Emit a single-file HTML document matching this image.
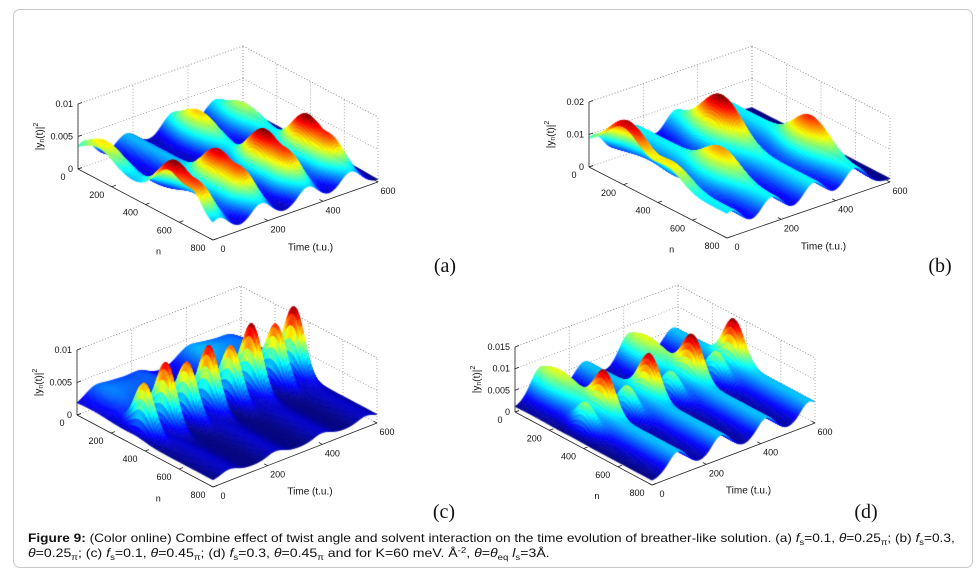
<!DOCTYPE html>
<html><head><meta charset="utf-8">
<style>
html,body{margin:0;padding:0;background:#fff;}
#wrap{position:relative;width:980px;height:578px;overflow:hidden;font-family:"Liberation Sans",Arial,sans-serif;}
#frame{position:absolute;left:13px;top:9px;width:960px;height:559px;border:1.5px solid #c9c9c9;border-radius:7px;box-sizing:border-box;}
svg,canvas{position:absolute;left:0;top:0;}
.cap{position:absolute;left:28px;font-size:11.7px;color:#111;white-space:nowrap;transform-origin:0 0;line-height:14px;}
.cap sub{font-size:8px;vertical-align:-3px;line-height:0}
.cap sup{font-size:8px;vertical-align:4px;line-height:0}
</style></head>
<body>
<div id="wrap">
<div id="frame"></div>
<svg id="gridLayer" width="980" height="578"></svg>
<canvas id="surf" width="980" height="578"></canvas>
<svg id="labelLayer" width="980" height="578"></svg>
<div class="cap" id="cap1" style="top:532px"><b>Figure 9:</b> (Color online) Combine effect of twist angle and solvent interaction on the time evolution of breather-like solution. (a) <i>f</i><sub>s</sub>=0.1, <i>θ</i>=0.25<sub>π</sub>; (b) <i>f</i><sub>s</sub>=0.3,</div>
<div class="cap" id="cap2" style="top:547px"><i>θ</i>=0.25<sub>π</sub>; (c) <i>f</i><sub>s</sub>=0.1, <i>θ</i>=0.45<sub>π</sub>; (d) <i>f</i><sub>s</sub>=0.3, <i>θ</i>=0.45<sub>π</sub> and for K=60 meV. Å<sup>-2</sup>, <i>θ</i>=<i>θ</i><sub>eq</sub> <i>l</i><sub>s</sub>=3Å.</div>
</div>
<script>
// ---------- data: panel (a) ----------
const aRidgeT=[20,175,345,500];
const aRidgeZ=[0.0025,0.0025,0.0025,0.0025];
const aHumpN=[540,540,540,540,690,690,690,690,120,150,160];
const aHumpT=[20,175,345,500,20,175,345,500,20,345,500];
const aHumpZ=[0.0055,0.005,0.0055,0.0055,0.003,0.003,0.003,0.003,0.0028,0.003,0.002];
const aHumpSN=[80,80,80,80,50,50,50,50,90,90,90];
const aHumpST=[38,38,38,38,38,38,38,38,40,40,40];
// ---------- data: panel (b) ----------
const bRidgeT=[15,165,320,470];
const bRidgeZ=[0.007,0.007,0.007,0.007];
const bHumpN=[200,460,500,260,540];
const bHumpT=[15,15,165,320,470];
const bHumpZ=[0.011,0.005,0.007,0.012,0.009];
const bHumpSN=[100,80,90,100,90];
const bHumpST=[40,40,40,40,40];
// ---------- data: panel (c) ----------
const cRidgeT=[60,230,400,560];
const cRidgeZ=[0.0008,0.0008,0.0008,0.0008];
const cHumpN=[80,80,350,350,350,350,350,350,350,350];
const cHumpT=[130,460,30,110,187,267,348,424,512,578];
const cHumpZ=[0.0025,0.003,0.0075,0.0095,0.0082,0.0096,0.0083,0.0098,0.0087,0.0102];
const cHumpSN=[150,150,55,55,55,55,55,55,55,55];
const cHumpST=[90,90,12,12,12,12,12,12,12,12];
// ---------- data: panel (d) ----------
const dRidgeT=[95,255,420,580];
const dRidgeZ=[0.0045,0.0045,0.0045,0.0045];
const dHumpN=[100,100,350,350,350,350,350,350,350,350];
const dHumpT=[95,420,40,110,195,276,357,434,522,585];
const dHumpZ=[0.004,0.004,0.006,0.009,0.0065,0.0095,0.006,0.0095,0.0065,0.0095];
const dHumpSN=[110,110,55,55,55,55,55,55,55,55];
const dHumpST=[40,40,14,14,14,14,14,14,14,14];
// ---------- axis tick values ----------
const nTicks=[0,200,400,600,800];
const tTicks=[0,200,400,600];
const zTicksA=[0,0.005,0.01];
const zTicksB=[0,0.01,0.02];
const zTicksC=[0,0.005,0.01];
const zTicksD=[0,0.005,0.01,0.015];
const zTickLabelsA=["0","0.005","0.01"];
const zTickLabelsB=["0","0.01","0.02"];
const zTickLabelsC=["0","0.005","0.01"];
const zTickLabelsD=["0","0.005","0.01","0.015"];

const panels=[
 {id:'a',O:[78,169],Vn:[135,71],Vt:[165,-58],H:65,zTop:0.01,base:0.0003,ridgeSig:38,
  RT:aRidgeT,RZ:aRidgeZ,HN:aHumpN,HT:aHumpT,HZ:aHumpZ,HSN:aHumpSN,HST:aHumpST,zt:zTicksA,zl:zTickLabelsA,lab:[445,266]},
 {id:'b',O:[589,167],Vn:[138,71],Vt:[163,-56],H:65,zTop:0.02,base:0.001,ridgeSig:40,
  RT:bRidgeT,RZ:bRidgeZ,HN:bHumpN,HT:bHumpT,HZ:bHumpZ,HSN:bHumpSN,HST:bHumpST,zt:zTicksB,zl:zTickLabelsB,lab:[940,266]},
 {id:'c',O:[77,415],Vn:[136,72],Vt:[164,-64],H:65,zTop:0.01,base:0.001,ridgeSig:30,
  RT:cRidgeT,RZ:cRidgeZ,HN:cHumpN,HT:cHumpT,HZ:cHumpZ,HSN:cHumpSN,HST:cHumpST,zt:zTicksC,zl:zTickLabelsC,lab:[444,512]},
 {id:'d',O:[515,412],Vn:[137,73],Vt:[163,-62],H:65,zTop:0.015,base:0.001,ridgeSig:35,
  RT:dRidgeT,RZ:dRidgeZ,HN:dHumpN,HT:dHumpT,HZ:dHumpZ,HSN:dHumpSN,HST:dHumpST,zt:zTicksD,zl:zTickLabelsD,lab:[866,512]}
];

function proj(p,n,t,z){
  return [p.O[0]+n/800*p.Vn[0]+t/600*p.Vt[0], p.O[1]+n/800*p.Vn[1]+t/600*p.Vt[1]-z/p.zTop*p.H];
}
function surfZ(p,n,t){
  let z=p.base;
  for(let i=0;i<p.RT.length;i++){const d=(t-p.RT[i])/p.ridgeSig; z+=p.RZ[i]*Math.exp(-d*d/2);}
  for(let i=0;i<p.HN.length;i++){const dn=(n-p.HN[i])/p.HSN[i], dt=(t-p.HT[i])/p.HST[i]; z+=p.HZ[i]*Math.exp(-(dn*dn+dt*dt)/2);}
  return z;
}
function jet(v){
  v=Math.max(0,Math.min(1,v));
  const r=Math.max(0,Math.min(1,1.5-Math.abs(4*v-3)));
  const g=Math.max(0,Math.min(1,1.5-Math.abs(4*v-2)));
  const b=Math.max(0,Math.min(1,1.5-Math.abs(4*v-1)));
  return 'rgb('+Math.round(r*255)+','+Math.round(g*255)+','+Math.round(b*255)+')';
}
const NS='http://www.w3.org/2000/svg';
const grid=document.getElementById('gridLayer');
const lab=document.getElementById('labelLayer');
function line(par,a,b,style,name){
  const l=document.createElementNS(NS,'line');
  l.setAttribute('x1',a[0].toFixed(1));l.setAttribute('y1',a[1].toFixed(1));
  l.setAttribute('x2',b[0].toFixed(1));l.setAttribute('y2',b[1].toFixed(1));
  l.setAttribute('stroke',style.c);l.setAttribute('stroke-width',style.w);
  if(style.d)l.setAttribute('stroke-dasharray',style.d);
  
  
  par.appendChild(l);
}
function text(par,x,y,s,opts,name){
  const e=document.createElementNS(NS,'text');
  e.setAttribute('x',x);e.setAttribute('y',y);
  e.setAttribute('font-family',opts.f||'"Liberation Sans",Arial,sans-serif');
  e.setAttribute('font-size',opts.s||9);
  e.setAttribute('fill','#111');
  e.setAttribute('text-anchor',opts.a||'middle');
  e.setAttribute('dominant-baseline','central');
  if(opts.r)e.setAttribute('transform','rotate('+opts.r+' '+x+' '+y+')');
  e.textContent=s;
  
  
  par.appendChild(e);
  return e;
}
const ctx=document.getElementById('surf').getContext('2d');
const dotted={c:'#999',w:0.8,d:'1 2'};
const axisS={c:'#222',w:0.8};
panels.forEach(p=>{
  for(const zv of p.zt.concat([p.zTop])){
    line(grid,proj(p,0,0,zv),proj(p,0,600,zv),dotted,'grid-z-line-back-'+p.id);
    line(grid,proj(p,0,600,zv),proj(p,800,600,zv),dotted,'grid-z-line-side-'+p.id);
  }
  for(const tv of tTicks) line(grid,proj(p,0,tv,0),proj(p,0,tv,p.zTop),dotted,'grid-t-line-'+p.id);
  for(const nv of nTicks) line(grid,proj(p,nv,600,0),proj(p,nv,600,p.zTop),dotted,'grid-n-line-'+p.id);
  const NS_=80, TS=150, dn=800/NS_, dt=600/TS;
  const Z=[];let zmin=1e9,zmax=-1e9;
  for(let i=0;i<=NS_;i++){Z[i]=[];for(let j=0;j<=TS;j++){const z=surfZ(p,i*dn,j*dt);Z[i][j]=z;zmin=Math.min(zmin,z);zmax=Math.max(zmax,z);}}
  const quads=[];
  for(let i=0;i<NS_;i++)for(let j=0;j<TS;j++){
    const n=(i+0.5)*dn,t=(j+0.5)*dt;
    quads.push({i,j,k:n/800*p.Vn[1]+t/600*p.Vt[1]});
  }
  quads.sort((a,b)=>a.k-b.k);
  for(const q of quads){
    const {i,j}=q;
    const zs=[Z[i][j],Z[i+1][j],Z[i+1][j+1],Z[i][j+1]];
    const pts=[proj(p,i*dn,j*dt,zs[0]),proj(p,(i+1)*dn,j*dt,zs[1]),proj(p,(i+1)*dn,(j+1)*dt,zs[2]),proj(p,i*dn,(j+1)*dt,zs[3])];
    const zm=(zs[0]+zs[1]+zs[2]+zs[3])/4;
    const col=jet((zm-zmin)/(zmax-zmin));
    ctx.fillStyle=col;ctx.strokeStyle=col;ctx.lineWidth=0.6;
    ctx.beginPath();ctx.moveTo(pts[0][0],pts[0][1]);
    for(let k=1;k<4;k++)ctx.lineTo(pts[k][0],pts[k][1]);
    ctx.closePath();ctx.fill();ctx.stroke();
  }
  line(lab,proj(p,0,0,0),proj(p,0,0,p.zTop),axisS,'z-axis-'+p.id);
  line(lab,proj(p,0,0,0),proj(p,800,0,0),axisS,'n-axis-'+p.id);
  line(lab,proj(p,800,0,0),proj(p,800,600,0),axisS,'time-axis-'+p.id);
  p.zt.forEach((zv,k)=>{
    const q=proj(p,0,0,zv);
    line(lab,q,[q[0]+4,q[1]-1.5],axisS,'z-tick-'+p.id);
    text(lab,q[0]-5,q[1],p.zl[k],{a:'end',s:9},'z-tick-label-'+p.id);
  });
  nTicks.forEach(nv=>{
    const q=proj(p,nv,0,0);
    line(lab,q,[q[0]+4,q[1]-1.4],axisS,'n-tick-'+p.id);
    text(lab,q[0]-15,q[1]+8,String(nv),{s:9},'n-tick-label-'+p.id);
  });
  tTicks.forEach(tv=>{
    const q=proj(p,800,tv,0);
    line(lab,q,[q[0]-3.5,q[1]-1.8],axisS,'t-tick-'+p.id);
    text(lab,q[0]+10,q[1]+9,String(tv),{s:9},'t-tick-label-'+p.id);
  });
  const qn=proj(p,560,0,0); text(lab,qn[0]-14,qn[1]+33,'n',{s:9},'n-axis-title-'+p.id);
  const qt=proj(p,800,300,0); text(lab,qt[0]+15,qt[1]+37,'Time (t.u.)',{s:10},'time-axis-title-'+p.id);
  const qz=proj(p,0,0,p.zTop/2);
  const zt=text(lab,qz[0]-38,qz[1],'',{s:10,r:-90},'z-axis-title-'+p.id);
  zt.innerHTML='|y<tspan font-size="7" dy="2">n</tspan><tspan dy="-2">(t)|</tspan><tspan font-size="7" dy="-4">2</tspan>';
  text(lab,p.lab[0],p.lab[1],'('+p.id+')',{s:20,f:'"Liberation Serif","Times New Roman",serif'},'panel-label-'+p.id);
});
[['cap1',927],['cap2',522]].forEach(([id,w])=>{
  const el=document.getElementById(id);
  el.style.transform='scaleX('+(w/el.scrollWidth)+')';
});
</script>
</body></html>
